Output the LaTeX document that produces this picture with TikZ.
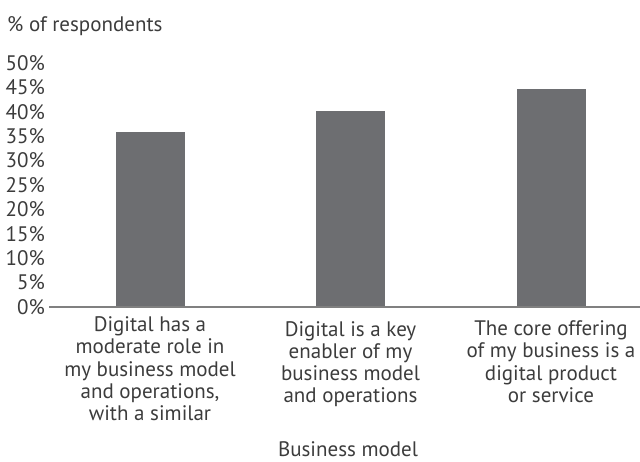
\documentclass[tikz,border=0pt]{standalone}
\usepackage{fontspec}
\setmainfont{PT Sans}
\definecolor{bargray}{HTML}{6D6E71}
\definecolor{axisgray}{HTML}{808080}
\definecolor{txtgray}{HTML}{3C3C3C}
\begin{document}
\begin{tikzpicture}[x=1pt, y=-1pt,
        every node/.style = {inner sep=0pt, text=txtgray, font=\fontsize{21}{22.3}\selectfont},
        tick/.style = {anchor=east},
        bar/.style = {fill=bargray, minimum width=69pt, anchor=south},
        cat/.style = {align=center, anchor=north},
        axisline/.style = {draw=axisgray, line width=2pt}]
    \useasboundingbox (0,0) rectangle (640,461);
    \node[anchor=base west] (title) at (7,31) {\% of respondents};
    \foreach \v in {0,5,...,50}
        \node[tick] (t\v) at (45,307-4.88*\v) {\v\%};
    \node[bar, minimum height=175pt] (b1) at (150.5,307) {};
    \node[bar, minimum height=196pt] (b2) at (350.5,307) {};
    \node[bar, minimum height=218pt] (b3) at (551.5,307) {};
    \coordinate (o) at (49,307);
    \coordinate (e) at (640,307);
    \draw[axisline] (o) -- (e);
    \node[cat] (c1) at (150,316.5) {Digital has a\\moderate role in\\my business model\\and operations,\\with a similar};
    \node[cat] (c2) at (350.5,321) {Digital is a key\\enabler of my\\business model\\and operations};
    \node[cat] (c3) at (551,320.5) {The core offering\\of my business is a\\digital product\\or service};
    \node[anchor=base] (xt) at (348,456) {Business model};
\end{tikzpicture}
\end{document}
